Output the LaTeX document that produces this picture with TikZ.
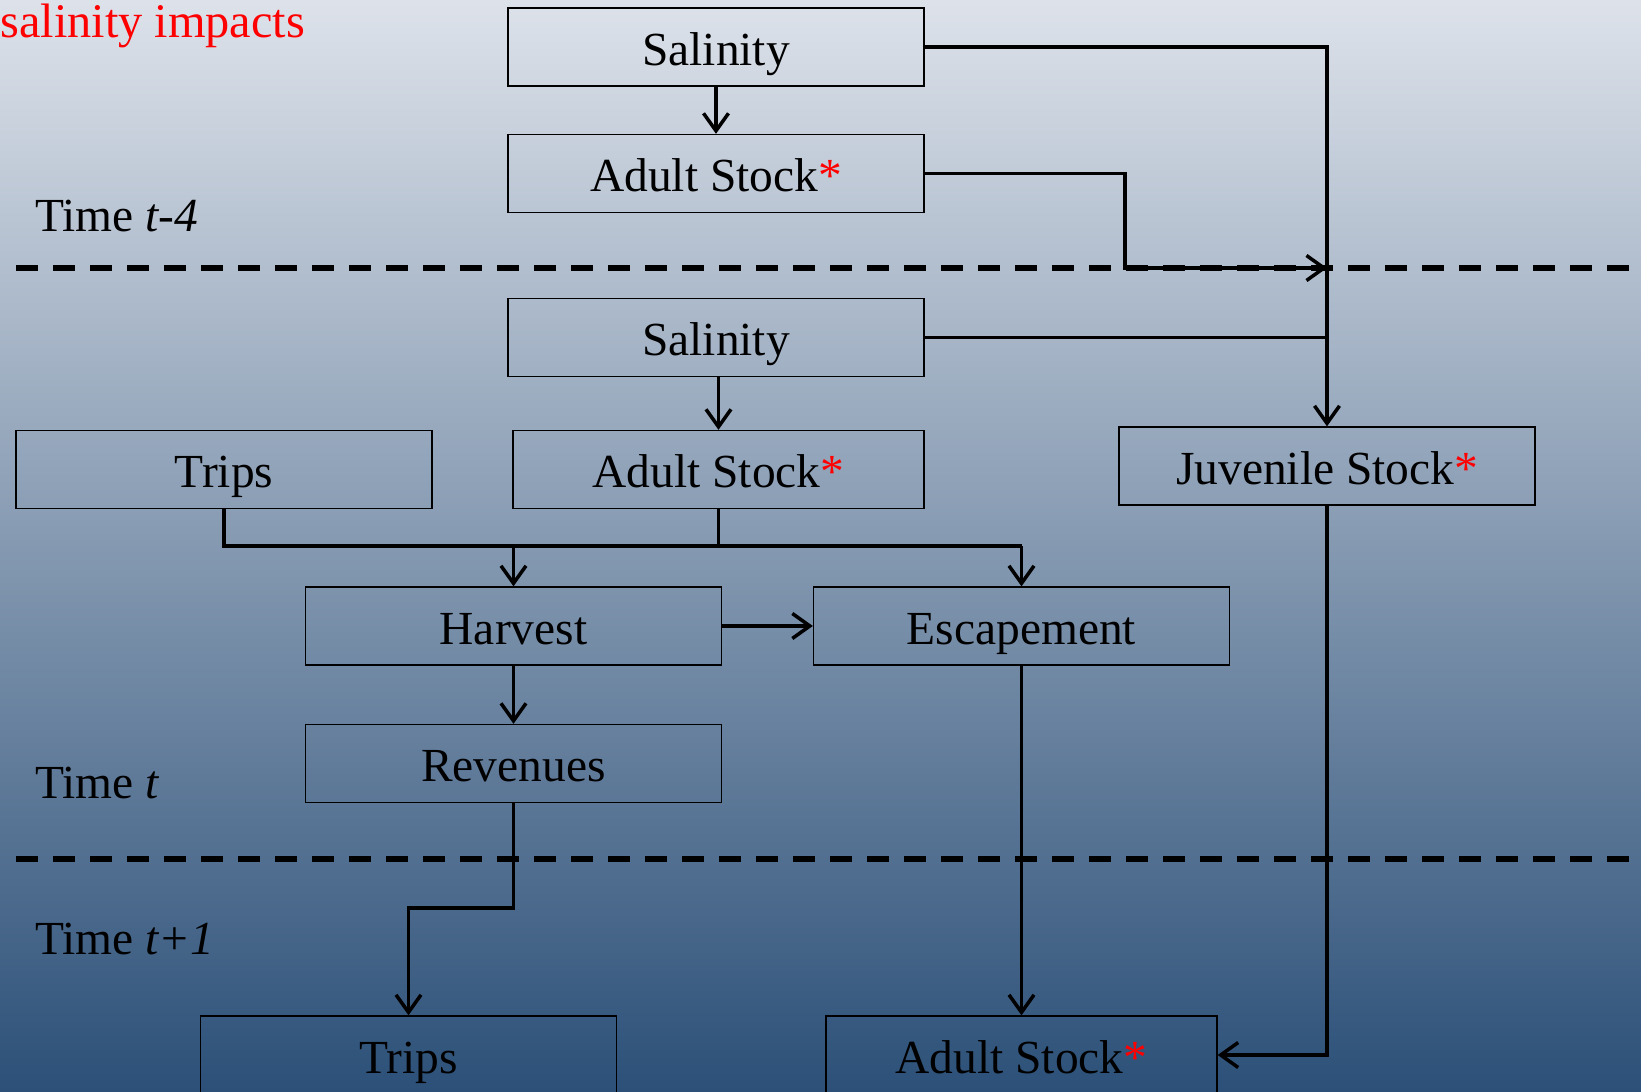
\documentclass[tikz,border=0pt]{standalone}
\usepackage{fontspec}
\setmainfont{Liberation Serif}
\usepackage{tikz}
\usetikzlibrary{arrows.meta}
\definecolor{skytop}{RGB}{221,226,234}
\definecolor{skybot}{RGB}{44,80,120}
\newcommand{\redstar}{\textcolor{red}{*}}

\begin{document}
\begin{tikzpicture}[
        box/.style={draw, line width=0.75pt, minimum width=8.32cm, minimum height=1.56cm,
            inner sep=0pt, text height=0.74cm, text depth=0cm, font=\fontsize{27}{32}\selectfont},
        lbl/.style={anchor=base west, inner sep=0pt, font=\fontsize{27}{32}\selectfont},
        conn/.style={line width=2pt},
        arr/.style={conn, -{Straight Barb[length=0.35cm, width=0.5cm]}},
        sep/.style={line width=3pt, dash pattern=on 0.44cm off 0.3cm}
    ]
                \clip (0,0) rectangle (32.82,21.82);
                \shade[top color=skytop, bottom color=skybot] (0,0) rectangle (32.82,21.82);

                \node[lbl, text=red, font=\fontsize{27.5}{33}\selectfont] (Imp) at (0,21.06) {salinity impacts};
                \node[lbl] (L1) at (0.7,17.18) {Time \textit{t-4}};
                \node[lbl] (L2) at (0.7,5.84) {Time \textit{t}};
                \node[lbl] (L3) at (0.7,2.74) {Time \textit{t+1}};

                \coordinate (D1) at (0.32,16.46);
                \coordinate (D2) at (0.32,4.64);
                \draw[sep] (D1) -- ++(32.34,0);
                \draw[sep] (D2) -- ++(32.34,0);

                \node[box] (S1) at (14.32,20.88) {Salinity};
                \node[box] (AS1) at (14.32,18.35) {Adult Stock\redstar};
                \node[box] (S2) at (14.32,15.07) {Salinity};
                \node[box] (T1) at (4.48,12.43) {Trips};
                \node[box, minimum width=8.22cm] (AS2) at (14.37,12.43) {Adult Stock\redstar};
                \node[box] (JS) at (26.54,12.50) {Juvenile Stock\redstar};
                \node[box] (H) at (10.27,9.30) {Harvest};
                \node[box] (E) at (20.43,9.30) {Escapement};
                \node[box] (R) at (10.27,6.55) {Revenues};
                \node[box] (T2) at (8.17,0.72) {Trips};
                \node[box, minimum width=7.82cm] (AS3) at (20.43,0.72) {Adult Stock\redstar};

                \coordinate (K1) at (22.5,16.46);
                \coordinate (K2) at (0,10.9);
                \coordinate (K3) at (0,3.66);

                \draw[arr] (S1) -- (AS1);
                \draw[arr] (S2.south -| AS2.north) -- (AS2);
                \draw[arr] (S1.east) -| (JS.north);
                \draw[conn] (S2.east) -- (S2.east -| JS.north);
                \draw[arr] (AS1.east) -| (K1) -- (K1 -| JS.north);

                \draw[conn] (T1.south) |- (E.north |- K2);
                \draw[conn] (AS2.south) -- (AS2.south |- K2);
                \draw[arr] (H.north |- K2) -- (H.north);
                \draw[arr] (E.north |- K2) -- (E.north);

                \draw[arr] (H) -- (E);
                \draw[arr] (H) -- (R);
                \draw[arr] (R.south) -- (R.south |- K3) -| (T2.north);
                \draw[arr] (E) -- (AS3);
                \draw[arr] (JS.south) |- (AS3.east);
\end{tikzpicture}
\end{document}
